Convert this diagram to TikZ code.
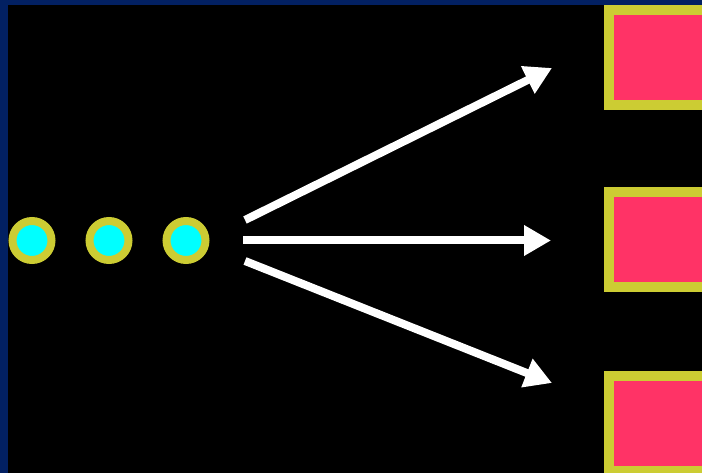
\documentclass[tikz,border=0pt]{standalone}
\usetikzlibrary{arrows.meta}
\definecolor{navy}{RGB}{2,32,98}
\definecolor{ringyellow}{RGB}{204,204,51}
\definecolor{dotcyan}{RGB}{0,255,255}
\definecolor{boxpink}{RGB}{255,51,102}
\tikzset{
  dotnode/.style={circle, draw=ringyellow, fill=dotcyan, line width=8pt, minimum size=39pt, inner sep=0pt},
  boxnode/.style={rectangle, draw=ringyellow, fill=boxpink, line width=10pt, minimum width=98pt, minimum height=95pt, inner sep=0pt},
  fanarrow/.style={draw=white, line width=8pt, -{Triangle[length=27pt,width=29pt]}}
}
\begin{document}
\begin{tikzpicture}[x=1pt,y=-1pt]
\useasboundingbox (0,0) rectangle (702,473);
\clip (0,0) rectangle (702,473);
\fill[navy] (0,0) rectangle (702,473);
\fill[black] (8,5) rectangle (710,480);
\node[dotnode] (c1) at (32,240.5) {};
\node[dotnode] (c2) at (109,240.5) {};
\node[dotnode] (c3) at (186,240.5) {};
\node[boxnode] (b1) at (658,57.5) {};
\node[boxnode] (b2) at (658,239.5) {};
\node[boxnode] (b3) at (658,423) {};
\coordinate (s1) at (245,220);
\coordinate (s2) at (243,240.5);
\coordinate (s3) at (245,261);
\coordinate (t1) at (552,68);
\coordinate (t2) at (551,240.5);
\coordinate (t3) at (552,383);
\draw[fanarrow] (s1) -- (t1);
\draw[fanarrow] (s2) -- (t2);
\draw[fanarrow] (s3) -- (t3);
\end{tikzpicture}
\end{document}
